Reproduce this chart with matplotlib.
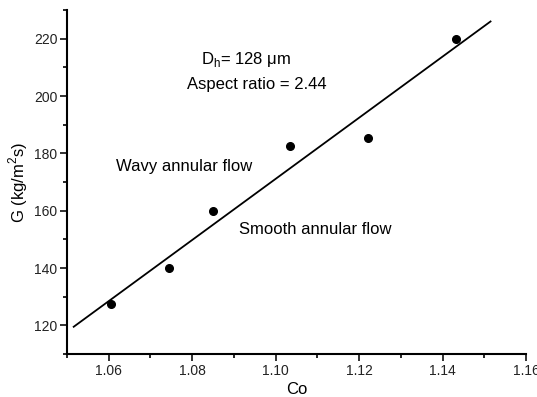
import matplotlib
matplotlib.use("Agg")
import matplotlib.pyplot as plt
from matplotlib.ticker import MultipleLocator

plt.rcParams['font.family'] = ['Liberation Sans', 'DejaVu Sans']
plt.rcParams['mathtext.fontset'] = 'custom'
plt.rcParams['mathtext.rm'] = 'Liberation Sans'

co = [1.0605, 1.0745, 1.0850, 1.1035, 1.1222, 1.1432]
g = [127.3, 140.0, 160.0, 182.4, 185.2, 220.0]
fit_x = [1.0516, 1.1515]
fit_y = [119.5, 226.0]

fig = plt.figure(figsize=(5.37, 3.97), dpi=100)
ax = fig.add_axes([0.1248, 0.1083, 0.8547, 0.8665])

ax.plot(fit_x, fit_y, color='black', lw=1.3)
ax.plot(co, g, 'o', color='black', ms=5.5)

ax.set_xlim(1.05, 1.16)
ax.set_ylim(110, 230)
ax.xaxis.set_minor_locator(MultipleLocator(0.01))
ax.yaxis.set_minor_locator(MultipleLocator(10))
ax.set_xticks([1.06, 1.08, 1.10, 1.12, 1.14, 1.16])
ax.set_xticklabels(['1.06', '1.08', '1.10', '1.12', '1.14', '1.16'])
ax.set_yticks([120, 140, 160, 180, 200, 220])

for s in ['top', 'right']:
    ax.spines[s].set_visible(False)
for s in ['left', 'bottom']:
    ax.spines[s].set_linewidth(1.5)

ax.tick_params(which='major', direction='out', length=5, width=1.3, labelsize=10, pad=2, colors='#222222')
ax.tick_params(which='minor', direction='out', length=3, width=1.2)

ax.set_xlabel('Co', fontsize=12, labelpad=3)
ax.set_ylabel('G (kg/m$^\\mathregular{2}$s)', fontsize=12, labelpad=3)

ax.text(1.0821, 212.7, 'D$_\\mathregular{h}$= 128 μm', fontsize=12, ha='left', va='center')
ax.text(1.0788, 204.0, 'Aspect ratio = 2.44', fontsize=12, ha='left', va='center')
ax.text(1.0617, 175.4, 'Wavy annular flow', fontsize=12, ha='left', va='center')
ax.text(1.0913, 153.4, 'Smooth annular flow', fontsize=12, ha='left', va='center')

fig.savefig('out.png', dpi=100)
